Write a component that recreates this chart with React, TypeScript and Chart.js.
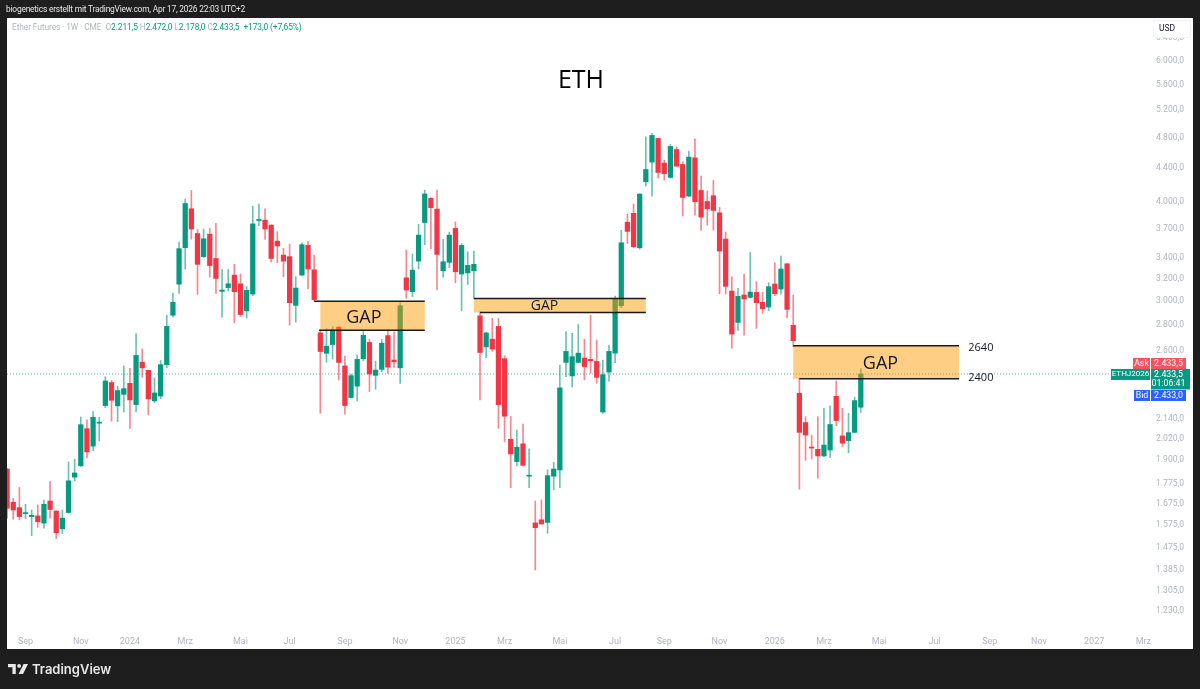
import React, { useEffect, useRef } from "react";
import { Chart, registerables } from "chart.js";

Chart.register(...registerables);

const opens = [1851,1682,1656,1628,1614,1617,1584,1688,1640,1558,1633,1808,1868,2079,1977,2112,2222,2374,2220,2295,2369,2228,2518,2459,2252,2284,2500,2882,3152,3501,3916,3647,3412,3640,3394,3087,3121,3235,3155,2919,3063,3786,3790,3736,3568,3427,3412,2965,3235,3524,3285,2739,2583,2649,2785,2491,2274,2350,2543,2665,2424,2466,2718,2533,2477,3210,3084,3368,3764,4035,3912,3276,3356,3701,3245,3256,3276,2877,2631,2690,2791,2543,2016,1891,1990,1813,1585,1599,1587,1813,1846,2516,2420,2516,2548,2538,2523,2181,2447,2584,2962,3768,3865,3500,4233,4480,4795,4467,4286,4645,4449,4062,4535,4128,3999,4066,3871,3589,3090,2823,3055,3034,3078,2991,2951,3153,3108,3342,2800,2302,2116,1972,1959,1922,1955,2282,2036,2008,2057,2211.5];
const highs = [1855,1701,1755,1672,1645,1669,1693,1785,1642,1645,1889,1904,2150,2132,2184,2148,2415,2388,2350,2490,2473,2733,2615,2461,2406,2530,2882,3072,3557,4027,4128,3690,3694,3701,3754,3288,3288,3337,3245,3130,3945,3969,3916,3740,3665,3494,3537,3220,3551,3565,3427,2762,2774,2790,2790,2563,2433,2570,2749,2688,2525,2690,2754,2747,2988,3477,3437,3745,4132,4043,4132,3585,3661,3771,3544,3460,3467,2911,2746,2856,2856,2563,2153,2071,2106,1961,1688,1693,1846,1887,2496,2749,2736,2806,2690,2882,2683,2533,2645,3046,3680,3858,3969,4090,4818,4865,4800,4505,4713,4681,4483,4623,4790,4302,4124,4249,3931,3662,3220,3114,3245,3454,3174,3078,3165,3352,3417,3345,3055,2404,2152,2041,2152,2205,2220,2385,2205,2173,2276,2472];
const lows = [1607,1602,1599,1604,1528,1565,1561,1607,1515,1537,1630,1789,1864,1911,1951,2006,2209,2124,2122,2181,2081,2181,2410,2163,2241,2267,2477,2866,3069,3292,3588,3060,3402,3216,3069,2866,3090,2820,2871,2858,3049,3730,3585,3359,3353,3220,2801,2825,3229,3108,3005,2173,2516,2540,2392,2168,2269,2252,2528,2313,2329,2449,2438,2480,2369,3026,3041,3292,3531,3491,3099,3216,3305,3165,2919,3149,3026,2258,2550,2597,2081,2003,1754,1868,1868,1754,1384,1579,1538,1743,1754,2415,2344,2514,2392,2438,2369,2173,2383,2514,2945,3544,3503,3487,4180,4060,4278,4253,4278,4420,3834,4054,3845,3679,3736,3683,3066,3063,2622,2759,2722,3028,2775,2897,2919,3049,3063,2860,2632,1746,1898,1905,1803,1918,1913,2097,1975,1940,2055,2178];
const closes = [1653,1645,1614,1631,1620,1590,1672,1647,1540,1607,1789,1830,2103,1944,2148,2118,2385,2256,2320,2333,2258,2567,2477,2265,2304,2500,2791,2991,3491,3976,3694,3337,3592,3325,3204,3099,3155,3084,2888,3096,3749,3797,3694,3394,3518,3368,2988,3117,3531,3292,3014,2596,2636,2762,2516,2222,2422,2538,2720,2433,2461,2659,2482,2520,2962,3099,3282,3630,4087,3928,3434,3362,3630,3266,3524,3327,3337,2589,2739,2615,2228,2155,1933,1971,1871,1818,1563,1580,1816,1851,2338,2597,2558,2584,2486,2528,2410,2429,2597,3017,3551,3669,3510,4085,4385,4837,4348,4332,4686,4428,4046,4544,3996,3823,3916,3897,3467,3132,2730,3043,3020,3081,2988,2936,3129,3066,3292,2931,2678,2057,2041,1966,1922,1983,2104,2128,1994,2055,2254,2433.5];

const priceTicks = [6400,6000,5600,5200,4800,4400,4000,3700,3400,3200,3000,2800,2600,2140,2020,1900,1775,1675,1575,1475,1385,1305,1230];
const timeTickLabels = ["Sep","Nov","2024","Mrz","Mai","Jul","Sep","Nov","2025","Mrz","Mai","Jul","Sep","Nov","2026","Mrz","Mai","Jul","Sep","Nov","2027","Mrz"];
const timeTickIndex = [3,12,20,29,38,46,55,64,73,81,90,99,107,116,125,133,142,151,160,168,177,185];

const lastPrice = 2433.5;
const askPrice = 2433.5;
const bidPrice = 2433.0;
const countdown = "01:06:41";

const gapHigh = [3000, 3024, 2640];
const gapLow = [2760, 2905, 2400];
const gapStart = [51, 76, 128];
const gapEnd = [68, 104, 155];
const gapTopLineStart = [50, 76, 128];
const gapBottomLineStart = [50.8, 77, 129];
const gapTextIndex = [58.1, 87.5, 142.2];
const gapFontSize = [18, 14, 18];
const levelLabels = [2640, 2400];

const GREEN = "#089981";
const RED = "#f23645";
const FONT = 'Roboto, sans-serif';

const fmt = (v: number) => {
  const whole = Math.floor(v);
  const dec = Math.round((v - whole) * 10);
  const th = Math.floor(whole / 1000);
  const rest = String(whole % 1000).padStart(3, "0");
  return (th > 0 ? `${th}.${rest}` : `${whole}`) + `,${dec}`;
};

const candleIndex = opens.map((_, i) => i);

export default function App() {
  const ref = useRef<HTMLCanvasElement | null>(null);

  useEffect(() => {
    if (!ref.current) return;
    const up = (i: number) => closes[i] >= opens[i];

    const panel = {
      id: "panel",
      beforeDraw(c: any) {
        const ctx = c.ctx;
        ctx.save();
        ctx.fillStyle = "#1e1e1e";
        ctx.fillRect(0, 0, 1200, 689);
        ctx.fillStyle = "#ffffff";
        ctx.fillRect(7, 18, 1186, 631);
        ctx.restore();
      },
    };

    const gaps = {
      id: "gaps",
      afterDatasetsDraw(c: any) {
        const ctx = c.ctx;
        const X = c.scales.x;
        const Y = c.scales.y;
        ctx.save();
        gapHigh.forEach((hi, g) => {
          const top = Y.getPixelForValue(hi);
          const bottom = Y.getPixelForValue(gapLow[g]);
          const l = X.getPixelForValue(gapStart[g]);
          const r = X.getPixelForValue(gapEnd[g]);
          ctx.fillStyle = "rgba(255,152,0,0.48)";
          ctx.fillRect(l, top, r - l, bottom - top);
          ctx.strokeStyle = "#1a1a1a";
          ctx.lineWidth = 1.4;
          ctx.beginPath();
          ctx.moveTo(X.getPixelForValue(gapTopLineStart[g]), top);
          ctx.lineTo(r, top);
          ctx.moveTo(X.getPixelForValue(gapBottomLineStart[g]), bottom);
          ctx.lineTo(r, bottom);
          ctx.stroke();
          ctx.fillStyle = "#131722";
          ctx.font = `${gapFontSize[g]}px "Open Sans", sans-serif`;
          ctx.textAlign = "center";
          ctx.textBaseline = "middle";
          ctx.fillText("GAP", X.getPixelForValue(gapTextIndex[g]), (top + bottom) / 2 + (g === 1 ? 1 : 2));
        });
        ctx.fillStyle = "#131722";
        ctx.font = '11px "Open Sans", sans-serif';
        ctx.textAlign = "left";
        ctx.textBaseline = "middle";
        levelLabels.forEach((v, k) => {
          ctx.fillText(String(v), X.getPixelForValue(156.5), Y.getPixelForValue(v) + (k === 0 ? 2 : -1));
        });
        ctx.fillStyle = "#000000";
        ctx.font = '25px "Open Sans", sans-serif';
        ctx.textAlign = "center";
        ctx.fillText("ETH", 581, 81);
        ctx.restore();
      },
    };

    const badges = {
      id: "badges",
      afterDraw(c: any) {
        const ctx = c.ctx;
        const y = c.scales.y.getPixelForValue(lastPrice);
        const box = (x: number, yy: number, w: number, h: number, col: string) => {
          ctx.fillStyle = col;
          ctx.fillRect(x, yy, w, h);
        };
        const txt = (s: string, x: number, yy: number) => {
          ctx.fillStyle = "#ffffff";
          ctx.fillText(s, x, yy);
        };
        ctx.save();
        ctx.font = `8.8px ${FONT}`;
        ctx.textBaseline = "middle";
        ctx.textAlign = "center";
        box(1133, y - 16, 17, 11, "#f7525f");
        box(1151, y - 16, 35, 11, "#f7525f");
        txt("Ask", 1141.5, y - 10.5);
        txt(fmt(askPrice), 1168.5, y - 10.5);
        box(1111, y - 5, 39, 11, GREEN);
        box(1151, y - 5, 39, 20.5, GREEN);
        txt(fmt(lastPrice), 1168.5, y + 0.5);
        txt(countdown, 1168.5, y + 10);
        box(1134, y + 16, 16, 11, "#2962ff");
        box(1151, y + 16, 35, 11, "#2962ff");
        txt("Bid", 1142, y + 21.5);
        txt(fmt(bidPrice), 1168.5, y + 21.5);
        ctx.font = `8px ${FONT}`;
        txt("ETHJ2026", 1130.5, y + 0.5);
        ctx.fillStyle = "#ffffff";
        ctx.strokeStyle = "#f0f3fa";
        ctx.lineWidth = 1;
        ctx.beginPath();
        ctx.roundRect(1153.5, 20.5, 37, 17, 2);
        ctx.fill();
        ctx.stroke();
        ctx.fillStyle = "#131722";
        ctx.textAlign = "left";
        ctx.font = `8.5px ${FONT}`;
        ctx.fillText("USD", 1159, 29);
        ctx.restore();
      },
    };

    const chart = new Chart(ref.current, {
      type: "bar",
      plugins: [panel, gaps, badges],
      data: {
        datasets: [
          {
            type: "line",
            order: 3,
            data: [
              { x: -0.016, y: lastPrice },
              { x: 185.6, y: lastPrice },
            ],
            borderColor: "rgba(8,153,129,0.7)",
            borderWidth: 1,
            borderDash: [1, 2],
            pointRadius: 0,
          },
          {
            order: 2,
            grouped: false,
            barThickness: 1,
            data: candleIndex.map((i) => ({ x: i, y: [lows[i], highs[i]] })),
            backgroundColor: candleIndex.map((i) =>
              up(i) ? "rgba(8,153,129,0.6)" : "rgba(242,54,69,0.6)"
            ),
          },
          {
            order: 1,
            grouped: false,
            barThickness: 4.6,
            minBarLength: 1,
            data: candleIndex.map((i) => ({
              x: i,
              y: [Math.min(opens[i], closes[i]), Math.max(opens[i], closes[i])],
            })),
            backgroundColor: candleIndex.map((i) => (up(i) ? GREEN : RED)),
          },
        ] as any,
      },
      options: {
        animation: false,
        responsive: false,
        devicePixelRatio: 1,
        layout: { padding: { left: 7, top: 18, right: 7, bottom: 40 } },
        plugins: { legend: { display: false }, tooltip: { enabled: false } },
        scales: {
          x: {
            type: "linear",
            min: -0.016,
            max: 185.6,
            offset: false,
            bounds: "data",
            grid: { display: false, drawTicks: false },
            border: { display: false },
            afterBuildTicks: (s: any) => {
              s.ticks = timeTickIndex.map((v) => ({ value: v }));
            },
            afterFit: (s: any) => {
              s.height = 21;
            },
            ticks: {
              autoSkip: false,
              maxRotation: 0,
              padding: 8,
              color: "#b2b5be",
              font: { family: FONT, size: 9 },
              callback: (v: any) => timeTickLabels[timeTickIndex.indexOf(Number(v))] ?? "",
            },
          },
          y: {
            type: "logarithmic",
            position: "right",
            min: 1171,
            max: 6783,
            grid: { display: false, drawTicks: false },
            border: { display: false },
            afterBuildTicks: (s: any) => {
              s.ticks = priceTicks.map((v) => ({ value: v }));
            },
            afterFit: (s: any) => {
              s.width = 46;
            },
            ticks: {
              autoSkip: false,
              padding: 9,
              color: "#b2b5be",
              font: { family: FONT, size: 8.6 },
              callback: (v: any) => fmt(Number(v)),
            },
          },
        },
      } as any,
    });
    return () => chart.destroy();
  }, []);

  const legendGrey: React.CSSProperties = { color: "#b2b5be" };
  const legendGreen: React.CSSProperties = { color: GREEN };

  return (
    <div style={{ position: "fixed", left: 0, top: 0, width: 1200, height: 689, overflow: "hidden", background: "#1e1e1e" }}>
      <canvas ref={ref} width={1200} height={689} style={{ display: "block", width: 1200, height: 689 }} />
      <div style={{ position: "absolute", left: 6, top: 4, font: `8.4px ${FONT}`, letterSpacing: "-0.2px", color: "#e6e6e6", whiteSpace: "nowrap" }}>
        biogenetics erstellt mit TradingView.com, Apr 17, 2026 22:03 UTC+2
      </div>
      <div style={{ position: "absolute", left: 12, top: 22, font: `8.4px ${FONT}`, letterSpacing: "-0.1px", whiteSpace: "nowrap" }}>
        <span style={legendGrey}>Ether Futures · 1W · CME&nbsp;&nbsp;O</span>
        <span style={legendGreen}>2.211,5</span>
        <span style={legendGrey}>&nbsp;H</span>
        <span style={legendGreen}>2.472,0</span>
        <span style={legendGrey}>&nbsp;L</span>
        <span style={legendGreen}>2.178,0</span>
        <span style={legendGrey}>&nbsp;C</span>
        <span style={legendGreen}>2.433,5&nbsp;&nbsp;+173,0 (+7,65%)</span>
      </div>
      <svg width="20" height="10" viewBox="0 0 36 18" style={{ position: "absolute", left: 8, top: 664 }}>
        <path d="M0 0H14V18H8V6H0Z M28 0H36L27 18H19Z" fill="#e8e8e8" />
        <circle cx="20" cy="3.4" r="3.4" fill="#e8e8e8" />
      </svg>
      <div style={{ position: "absolute", left: 32, top: 661, font: `600 13px Inter, ${FONT}`, color: "#e8e8e8", whiteSpace: "nowrap" }}>
        TradingView
      </div>
    </div>
  );
}
